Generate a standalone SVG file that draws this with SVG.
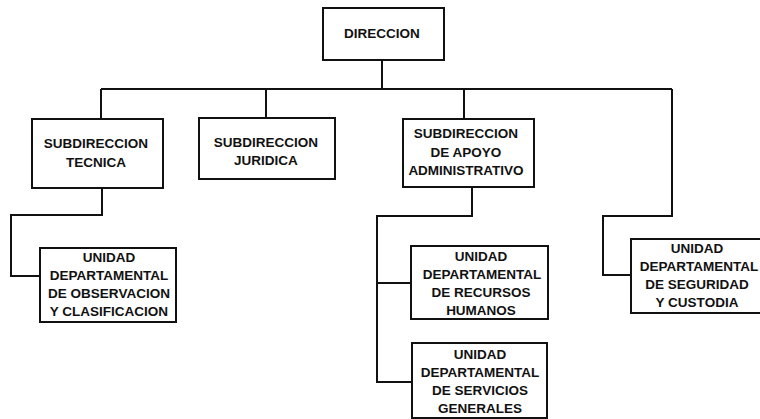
<svg xmlns="http://www.w3.org/2000/svg" width="760" height="419" viewBox="0 0 760 419">
<style>
.box{fill:#fff;stroke:#111;stroke-width:2}
.ln{fill:none;stroke:#111;stroke-width:2}
text{font-family:"Liberation Sans",Arial,sans-serif;font-weight:bold;font-size:13.5px;fill:#111;text-anchor:middle;dominant-baseline:central}
</style>
<rect width="760" height="419" fill="#fff"/>
<g id="connectors" class="ln">
<path d="M382,60 V89"/>
<path d="M101,89 H672"/>
<path d="M101,89 V119"/>
<path d="M266,89 V118"/>
<path d="M464,89 V119"/>
<path d="M102,188 V215 H11 V276 H40"/>
<path d="M472,187 V216 H377 V382 H412"/>
<path d="M377,283 H412"/>
<path d="M672,89 V216 H603 V275 H631"/>
</g>
<g id="direccion"><rect class="box" x="323" y="8" width="121" height="52"/><text x="382" y="33">DIRECCION</text></g>
<g id="sub-tecnica"><rect class="box" x="32" y="119" width="131" height="69"/><text x="96" y="143">SUBDIRECCION</text><text x="96" y="162">TECNICA</text></g>
<g id="sub-juridica"><rect class="box" x="199" y="118" width="136" height="61"/><text x="266" y="142">SUBDIRECCION</text><text x="266" y="160">JURIDICA</text></g>
<g id="sub-apoyo"><rect class="box" x="403" y="119" width="131" height="68"/><text x="466" y="133">SUBDIRECCION</text><text x="466" y="152">DE APOYO</text><text x="466" y="170">ADMINISTRATIVO</text></g>
<g id="ud-observacion"><rect class="box" x="40" y="248" width="136" height="74"/><text x="109" y="257">UNIDAD</text><text x="109" y="275">DEPARTAMENTAL</text><text x="109" y="293">DE OBSERVACION</text><text x="109" y="311">Y CLASIFICACION</text></g>
<g id="ud-recursos"><rect class="box" x="411" y="246" width="137" height="73"/><text x="481" y="256">UNIDAD</text><text x="482" y="274">DEPARTAMENTAL</text><text x="481" y="292">DE RECURSOS</text><text x="481" y="310">HUMANOS</text></g>
<g id="ud-servicios"><rect class="box" x="412" y="343" width="135" height="75"/><text x="480" y="354">UNIDAD</text><text x="480" y="372">DEPARTAMENTAL</text><text x="480" y="390">DE SERVICIOS</text><text x="480" y="408">GENERALES</text></g>
<g id="ud-seguridad"><rect class="box" x="631" y="239" width="132" height="74"/><text x="697" y="248">UNIDAD</text><text x="699" y="266">DEPARTAMENTAL</text><text x="697" y="284">DE SEGURIDAD</text><text x="697" y="302">Y CUSTODIA</text></g>
</svg>
